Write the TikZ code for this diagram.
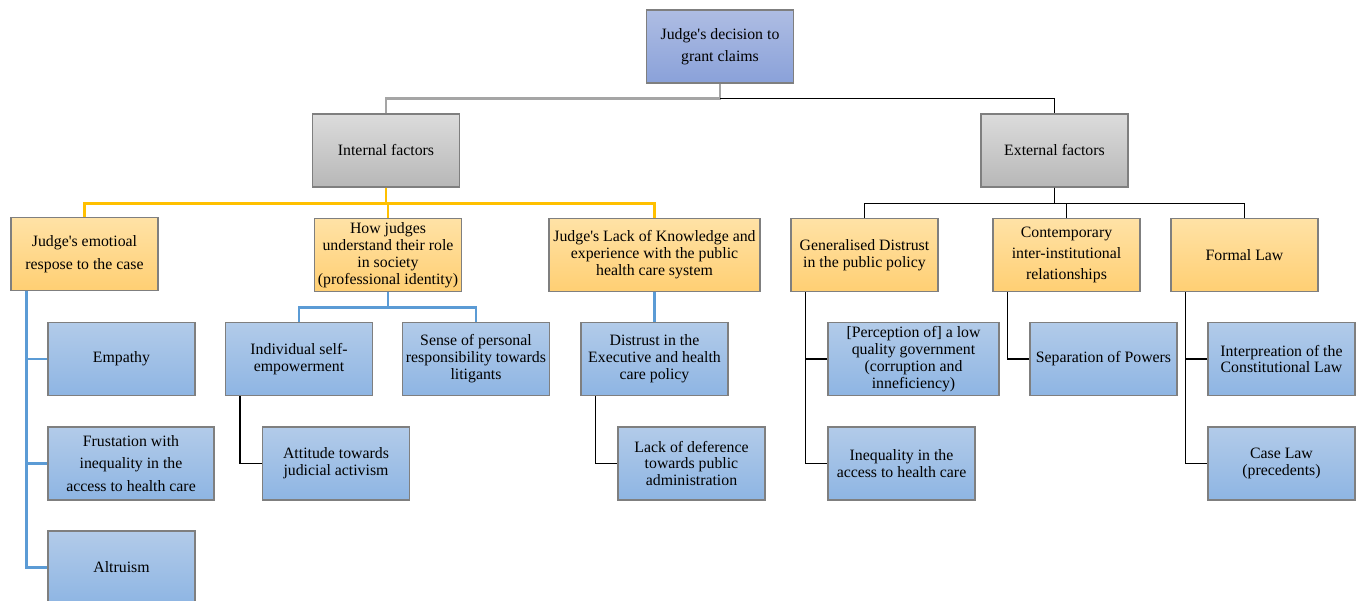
\documentclass[tikz,border=0pt]{standalone}
\usepackage{fontspec}
\setmainfont{Liberation Serif}
\definecolor{boxedge}{HTML}{7F7F7F}
\definecolor{rootA}{HTML}{AEBDE3}
\definecolor{rootB}{HTML}{8AA1D9}
\definecolor{greyA}{HTML}{DCDCDC}
\definecolor{greyB}{HTML}{B7B7B7}
\definecolor{orA}{HTML}{FFE2A6}
\definecolor{orB}{HTML}{FFCF73}
\definecolor{blA}{HTML}{B2CBE9}
\definecolor{blB}{HTML}{8EB5E3}
\definecolor{gold}{HTML}{FFC000}
\definecolor{sky}{HTML}{5B9BD5}
\definecolor{ash}{HTML}{A5A5A5}
\newcommand{\apos}{\textquotesingle}
\begin{document}
\begin{tikzpicture}[x=0.02cm,y=-0.02cm,
  box/.style={draw=boxedge,line width=0.8pt,minimum width=2.94cm,minimum height=1.46cm,
    align=center,inner sep=1pt,font=\fontsize{9}{9.6}\selectfont},
  rootbox/.style={box,top color=rootA,bottom color=rootB},
  greybox/.style={box,top color=greyA,bottom color=greyB},
  orangebox/.style={box,top color=orA,bottom color=orB},
  bluebox/.style={box,top color=blA,bottom color=blB},
  airy/.style={font=\fontsize{9}{12.8}\selectfont},
  ashline/.style={draw=ash,line width=1.7pt},
  goldline/.style={draw=gold,line width=1.7pt},
  skyline/.style={draw=sky,line width=1.7pt},
  thinline/.style={draw=black,line width=0.8pt}]
\useasboundingbox (0,0) rectangle (1360,601);
% top of the tree
\node[rootbox,airy] (root) at (720,46.5) {Judge\apos s decision to\\grant claims};
\node[greybox] (int) at (386,150.5) {Internal factors};
\node[greybox] (ext) at (1054.5,150.5) {External factors};
% factors
\node[orangebox,airy] (emo) at (84.5,254) {Judge\apos s emotioal\\respose to the case};
\node[orangebox] (how) at (388,255) {How judges\\understand their role\\in society\\(professional identity)};
\node[orangebox,minimum width=4.22cm] (lack) at (654.5,255) {Judge\apos s Lack of Knowledge and\\experience with the public\\health care system};
\node[orangebox] (gen) at (864.5,255) {Generalised Distrust\\in the public policy};
\node[orangebox,font=\fontsize{9}{11.8}\selectfont] (cont) at (1066.5,255) {Contemporary\\inter-institutional\\relationships};
\node[orangebox] (formal) at (1244.5,255) {Formal Law};
% sub-factors
\node[bluebox] (emp) at (121.5,359) {Empathy};
\node[bluebox] (indiv) at (299,359) {Individual self-\\empowerment};
\node[bluebox] (sense) at (476,359) {Sense of personal\\responsibility towards\\litigants};
\node[bluebox] (distr) at (654.5,359) {Distrust in the\\Executive and health\\care policy};
\node[bluebox,minimum width=3.42cm] (perc) at (913.5,359) {[Perception of] a low\\quality government\\(corruption and\\inneficiency)};
\node[bluebox] (sep) at (1103.5,359) {Separation of Powers};
\node[bluebox] (interp) at (1281.5,359) {Interpreation of the\\Constitutional Law};
\node[bluebox,airy,minimum width=3.32cm] (frust) at (131,463.5) {Frustation with\\inequality in the\\access to health care};
\node[bluebox] (att) at (336,463.5) {Attitude towards\\judicial activism};
\node[bluebox] (ldef) at (691.5,463.5) {Lack of deference\\towards public\\administration};
\node[bluebox] (ineq) at (901.5,463.5) {Inequality in the\\access to health care};
\node[bluebox] (case) at (1281.5,463.5) {Case Law\\(precedents)};
\node[bluebox] (alt) at (121.5,567.5) {Altruism};
% connectors
\draw[ashline] (root.south) -- ++(0,15) -| (int.north);
\draw[thinline] (root.south) ++(0,15) -| (ext.north);
\foreach \c in {emo,how,lack}
  \draw[goldline] (int.south) -- ++(0,16) -| (\c.north);
\foreach \c in {gen,cont,formal}
  \draw[thinline] (ext.south) -- ++(0,16) -| (\c.north);
\foreach \c in {emp,frust,alt}
  \draw[skyline] ([xshift=0.32cm]emo.south west) |- (\c.west);
\foreach \c in {indiv,sense}
  \draw[skyline] (how.south) -- ++(0,15) -| (\c.north);
\draw[skyline] (lack.south) -- (distr.north);
\draw[thinline] ([xshift=0.3cm]indiv.south west) |- (att.west);
\draw[thinline] ([xshift=0.3cm]distr.south west) |- (ldef.west);
\foreach \c in {perc,ineq}
  \draw[thinline] ([xshift=0.3cm]gen.south west) |- (\c.west);
\draw[thinline] ([xshift=0.3cm]cont.south west) |- (sep.west);
\foreach \c in {interp,case}
  \draw[thinline] ([xshift=0.3cm]formal.south west) |- (\c.west);
\end{tikzpicture}
\end{document}
